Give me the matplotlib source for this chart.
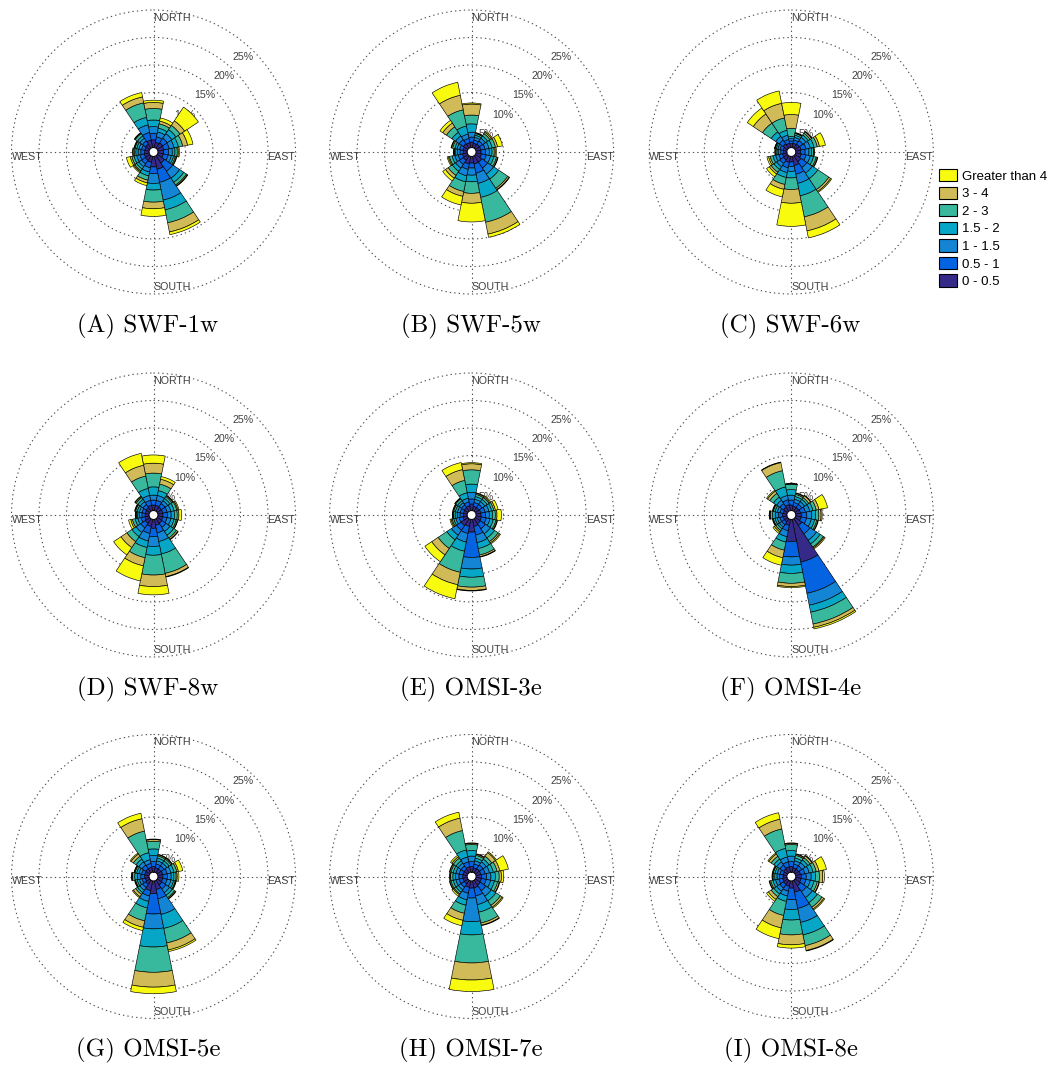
import numpy as np
import matplotlib.pyplot as plt
from matplotlib.patches import Patch

plt.rcParams['font.family'] = ['Liberation Sans', 'DejaVu Sans']

# 16 compass sectors, clockwise from north
directions = ['N', 'NNE', 'NE', 'ENE', 'E', 'ESE', 'SE', 'SSE',
              'S', 'SSW', 'SW', 'WSW', 'W', 'WNW', 'NW', 'NNW']
speed_bins = ['0 - 0.5', '0.5 - 1', '1 - 1.5', '1.5 - 2', '2 - 3', '3 - 4', 'Greater than 4']
bin_colors = ['#352a87', '#0363e1', '#1485d4', '#06a7c6', '#38b99e', '#d1bb59', '#f9fb0e']
ring_values = [5, 10, 15, 20, 25]

# frequency (%) per direction (rows) and speed bin (columns)
swf_1w = [
    [1.4, 1.2, 1.2, 1.2, 2.1, 1.1, 0.4],
    [1.0, 1.0, 0.9, 0.7, 0.8, 0.5, 0.6],
    [1.2, 1.0, 1.0, 0.9, 0.9, 1.0, 3.0],
    [1.1, 1.0, 0.9, 0.8, 0.8, 0.9, 1.0],
    [1.0, 0.9, 0.7, 0.5, 0.4, 0.2, 0.2],
    [1.0, 0.9, 0.6, 0.4, 0.3, 0.2, 0.1],
    [1.6, 1.8, 1.5, 0.9, 0.6, 0.2, 0.1],
    [2.4, 2.4, 3.3, 1.8, 2.4, 1.7, 0.5],
    [1.9, 1.2, 1.8, 1.2, 2.2, 1.2, 1.4],
    [1.1, 1.0, 0.8, 0.7, 0.8, 0.5, 0.5],
    [1.0, 0.8, 0.6, 0.5, 0.4, 0.2, 0.2],
    [0.9, 0.8, 0.6, 0.5, 0.4, 0.3, 0.7],
    [0.8, 0.7, 0.5, 0.4, 0.3, 0.2, 0.1],
    [0.8, 0.6, 0.5, 0.4, 0.3, 0.1, 0.1],
    [0.9, 0.7, 0.6, 0.5, 0.5, 0.1, 0.1],
    [1.4, 1.4, 1.4, 1.4, 2.7, 1.1, 0.8],
]
swf_5w = [
    [1.0, 0.9, 0.9, 1.5, 1.6, 2.0, 0.2],
    [0.8, 0.6, 0.5, 0.4, 0.3, 0.1, 0.1],
    [0.9, 0.7, 0.6, 0.5, 0.5, 0.3, 0.2],
    [0.9, 0.8, 0.7, 0.6, 0.6, 0.4, 0.9],
    [0.9, 0.8, 0.7, 0.5, 0.4, 0.2, 0.2],
    [1.0, 0.9, 0.8, 0.6, 0.5, 0.2, 0.1],
    [1.4, 1.3, 1.3, 1.1, 2.0, 0.3, 0.1],
    [1.4, 1.7, 1.9, 2.6, 4.6, 2.2, 0.6],
    [1.2, 0.9, 1.3, 1.2, 2.1, 1.8, 3.4],
    [1.4, 1.0, 1.2, 1.1, 1.8, 0.9, 1.6],
    [1.0, 0.9, 0.8, 0.7, 0.9, 0.6, 0.6],
    [0.9, 0.8, 0.6, 0.5, 0.5, 0.2, 0.2],
    [0.7, 0.6, 0.5, 0.3, 0.2, 0.1, 0.1],
    [0.8, 0.6, 0.5, 0.4, 0.4, 0.2, 0.1],
    [1.0, 0.9, 0.8, 0.8, 1.2, 0.8, 0.6],
    [0.9, 0.8, 0.8, 1.5, 3.0, 2.7, 2.4],
]
swf_6w = [
    [0.7, 0.5, 0.4, 0.4, 1.5, 2.5, 2.2],
    [0.8, 0.6, 0.5, 0.4, 0.3, 0.1, 0.1],
    [0.9, 0.8, 0.7, 0.5, 0.4, 0.3, 0.1],
    [1.0, 0.9, 0.8, 0.7, 0.6, 0.4, 1.1],
    [0.9, 0.8, 0.7, 0.5, 0.3, 0.1, 0.1],
    [1.0, 0.9, 0.8, 0.6, 0.5, 0.2, 0.1],
    [1.3, 1.3, 1.2, 1.2, 2.4, 0.4, 0.2],
    [1.7, 1.6, 1.7, 2.3, 3.9, 2.6, 1.3],
    [1.0, 0.8, 0.9, 1.2, 2.1, 2.5, 4.2],
    [1.1, 1.0, 0.9, 0.9, 1.3, 0.9, 1.4],
    [0.9, 0.8, 0.7, 0.6, 0.6, 0.4, 0.6],
    [0.8, 0.7, 0.6, 0.5, 0.5, 0.3, 0.3],
    [0.6, 0.5, 0.4, 0.3, 0.2, 0.1, 0.1],
    [0.7, 0.6, 0.4, 0.3, 0.2, 0.05, 0.05],
    [1.0, 0.8, 0.8, 1.0, 1.9, 2.0, 1.3],
    [0.8, 0.7, 0.8, 0.9, 2.3, 2.7, 2.3],
]
swf_8w = [
    [1.0, 0.9, 0.9, 1.5, 2.5, 1.8, 1.5],
    [1.0, 0.9, 0.9, 0.9, 1.2, 0.9, 0.5],
    [0.9, 0.8, 0.6, 0.5, 0.4, 0.2, 0.1],
    [0.9, 0.8, 0.7, 0.6, 0.5, 0.2, 0.2],
    [0.9, 0.8, 0.7, 0.6, 0.5, 0.3, 0.5],
    [0.9, 0.8, 0.7, 0.6, 0.4, 0.2, 0.1],
    [1.0, 0.9, 0.9, 0.8, 0.6, 0.3, 0.1],
    [1.1, 1.4, 1.6, 2.3, 3.6, 0.6, 0.1],
    [1.6, 1.5, 1.8, 1.6, 3.6, 2.1, 1.5],
    [1.3, 1.3, 1.4, 1.2, 1.9, 1.5, 2.8],
    [1.0, 1.0, 1.0, 0.9, 1.1, 1.3, 1.6],
    [0.8, 0.7, 0.6, 0.5, 0.5, 0.3, 0.4],
    [0.7, 0.6, 0.5, 0.3, 0.2, 0.1, 0.1],
    [0.7, 0.6, 0.5, 0.4, 0.3, 0.1, 0.1],
    [0.8, 0.7, 0.6, 0.5, 0.4, 0.2, 0.1],
    [1.0, 0.9, 0.9, 1.3, 2.3, 2.0, 2.2],
]
omsi_3e = [
    [1.2, 0.9, 1.2, 1.5, 2.6, 1.1, 0.2],
    [0.8, 0.7, 0.6, 0.5, 0.4, 0.2, 0.1],
    [0.8, 0.7, 0.6, 0.5, 0.4, 0.2, 0.2],
    [0.9, 0.8, 0.7, 0.5, 0.4, 0.3, 0.5],
    [0.9, 0.8, 0.7, 0.6, 0.5, 0.3, 0.8],
    [1.0, 0.9, 0.7, 0.6, 0.5, 0.2, 0.1],
    [1.1, 1.1, 1.1, 0.9, 0.8, 0.3, 0.2],
    [1.3, 1.6, 1.4, 1.1, 1.2, 0.3, 0.1],
    [2.3, 4.6, 2.1, 1.5, 1.8, 0.6, 0.1],
    [1.3, 1.3, 1.6, 1.7, 3.9, 2.3, 2.6],
    [1.5, 1.0, 1.1, 1.0, 1.9, 1.4, 1.5],
    [0.8, 0.7, 0.6, 0.4, 0.3, 0.2, 0.2],
    [0.7, 0.6, 0.5, 0.4, 0.3, 0.1, 0.1],
    [0.7, 0.6, 0.5, 0.4, 0.3, 0.1, 0.1],
    [0.8, 0.6, 0.5, 0.4, 0.4, 0.1, 0.1],
    [0.9, 0.7, 0.7, 1.0, 2.3, 2.0, 1.3],
]
omsi_4e = [
    [1.0, 0.9, 0.9, 1.0, 1.0, 0.05, 0.05],
    [0.8, 0.7, 0.6, 0.5, 0.4, 0.2, 0.1],
    [0.8, 0.7, 0.6, 0.5, 0.4, 0.4, 0.1],
    [0.9, 0.9, 0.8, 0.6, 0.6, 0.5, 1.6],
    [1.0, 1.0, 0.9, 0.7, 0.6, 0.4, 0.2],
    [1.0, 1.0, 0.9, 0.6, 0.4, 0.2, 0.1],
    [1.5, 1.8, 1.4, 0.8, 0.7, 0.2, 0.2],
    [7.9, 5.8, 2.2, 1.3, 2.2, 0.6, 0.3],
    [4.0, 2.8, 1.5, 1.5, 1.8, 0.6, 0.2],
    [1.1, 1.0, 1.1, 1.0, 1.5, 1.4, 1.4],
    [0.7, 0.6, 0.5, 0.4, 0.4, 0.3, 0.3],
    [0.7, 0.6, 0.5, 0.4, 0.3, 0.1, 0.1],
    [0.8, 0.7, 0.6, 0.5, 0.4, 0.1, 0.1],
    [0.7, 0.6, 0.5, 0.4, 0.3, 0.1, 0.1],
    [0.9, 0.8, 0.7, 0.7, 0.8, 0.5, 0.2],
    [1.1, 0.9, 0.8, 1.6, 3.0, 1.5, 0.1],
]
omsi_5e = [
    [1.0, 0.9, 1.1, 1.2, 1.4, 0.3, 0.1],
    [0.8, 0.7, 0.6, 0.5, 0.4, 0.2, 0.1],
    [0.8, 0.7, 0.6, 0.5, 0.4, 0.2, 0.1],
    [0.9, 0.8, 0.7, 0.6, 0.5, 0.3, 0.8],
    [0.9, 0.8, 0.7, 0.5, 0.4, 0.2, 0.3],
    [0.9, 0.8, 0.7, 0.5, 0.3, 0.1, 0.1],
    [1.0, 0.9, 0.8, 0.6, 0.5, 0.2, 0.1],
    [1.6, 1.7, 2.9, 2.6, 2.7, 1.3, 0.3],
    [2.3, 3.7, 2.7, 3.3, 4.6, 2.7, 1.2],
    [1.8, 1.0, 1.0, 1.2, 2.4, 1.2, 0.6],
    [0.9, 0.7, 0.6, 0.5, 0.4, 0.5, 0.2],
    [0.7, 0.6, 0.5, 0.4, 0.3, 0.1, 0.1],
    [0.8, 0.7, 0.6, 0.5, 0.4, 0.1, 0.1],
    [0.8, 0.6, 0.5, 0.4, 0.3, 0.1, 0.1],
    [0.9, 0.8, 0.7, 0.6, 0.6, 0.5, 0.2],
    [0.9, 0.7, 0.7, 1.3, 4.0, 2.3, 1.0],
]
omsi_7e = [
    [1.0, 0.9, 1.0, 1.0, 1.1, 0.2, 0.1],
    [0.8, 0.7, 0.6, 0.5, 0.5, 0.2, 0.1],
    [0.9, 0.8, 0.7, 0.6, 0.6, 0.8, 0.2],
    [0.9, 0.8, 0.8, 0.7, 0.7, 0.5, 1.6],
    [1.0, 0.9, 0.8, 0.8, 0.7, 0.4, 0.4],
    [1.0, 0.9, 0.8, 0.7, 0.6, 0.3, 0.1],
    [1.1, 1.2, 1.2, 1.0, 1.0, 0.4, 0.2],
    [1.3, 1.5, 1.6, 1.4, 2.0, 0.4, 0.1],
    [1.3, 1.8, 4.3, 2.4, 5.1, 3.1, 2.1],
    [1.2, 1.1, 1.2, 1.0, 1.5, 1.3, 1.0],
    [0.8, 0.7, 0.6, 0.5, 0.4, 0.2, 0.3],
    [0.8, 0.7, 0.6, 0.5, 0.4, 0.2, 0.1],
    [0.8, 0.7, 0.6, 0.5, 0.4, 0.1, 0.1],
    [0.8, 0.7, 0.6, 0.5, 0.4, 0.2, 0.1],
    [0.8, 0.7, 0.6, 0.5, 0.6, 0.3, 0.3],
    [1.0, 0.9, 0.9, 1.3, 3.6, 2.3, 1.1],
]
omsi_8e = [
    [1.0, 0.9, 1.0, 1.0, 1.1, 0.2, 0.1],
    [0.8, 0.7, 0.6, 0.5, 0.5, 0.2, 0.1],
    [0.8, 0.7, 0.7, 0.6, 0.5, 0.4, 0.1],
    [0.9, 0.8, 0.8, 0.7, 0.6, 0.5, 1.4],
    [1.0, 0.9, 0.9, 0.8, 0.7, 0.6, 0.3],
    [1.0, 0.9, 0.8, 0.7, 0.6, 0.3, 0.1],
    [1.2, 1.3, 1.3, 1.1, 1.0, 0.4, 0.2],
    [2.1, 3.0, 2.6, 2.3, 2.0, 0.9, 0.1],
    [1.3, 2.1, 1.8, 1.9, 2.7, 1.8, 0.6],
    [1.0, 0.9, 0.9, 1.0, 2.6, 2.3, 2.0],
    [0.9, 0.8, 0.7, 0.6, 0.6, 0.6, 0.4],
    [0.8, 0.7, 0.6, 0.5, 0.4, 0.2, 0.1],
    [0.7, 0.6, 0.5, 0.4, 0.3, 0.1, 0.1],
    [0.7, 0.6, 0.5, 0.4, 0.3, 0.1, 0.1],
    [0.9, 0.8, 0.7, 0.6, 0.6, 0.5, 0.2],
    [1.0, 0.9, 0.9, 1.6, 3.6, 1.8, 1.2],
]

panel_titles = ['(A) SWF-1w', '(B) SWF-5w', '(C) SWF-6w',
                '(D) SWF-8w', '(E) OMSI-3e', '(F) OMSI-4e',
                '(G) OMSI-5e', '(H) OMSI-7e', '(I) OMSI-8e']
panel_data = [swf_1w, swf_5w, swf_6w, swf_8w, omsi_3e, omsi_4e,
              omsi_5e, omsi_7e, omsi_8e]

W, H = 1052, 1068
fig = plt.figure(figsize=(W / 100, H / 100), dpi=100)

# layout in pixels
col_cx = [153.5, 471.6, 791.3]
row_cy = [152, 515, 876.5]
cap_x = [148, 470.5, 790.5]
cap_y = [326, 689, 1050]
R = 142

theta = np.deg2rad(np.arange(16) * 22.5)
width = 2 * np.pi / 16
grid_style = dict(color='0.3', linewidth=0.8, linestyle=(0, (1.2, 2.8)))
label_color = '0.25'

for i, (title, vals) in enumerate(zip(panel_titles, panel_data)):
    r_i, c_i = divmod(i, 3)
    cx, cy = col_cx[c_i], row_cy[r_i]
    ax = fig.add_axes([(cx - R) / W, 1 - (cy + R) / H, 2 * R / W, 2 * R / H],
                      projection='polar')
    ax.set_theta_zero_location('N')
    ax.set_theta_direction(-1)
    ax.set_ylim(0, 25)
    ax.set_rorigin(-0.82)
    ax.set_yticks(ring_values)
    ax.set_yticklabels([])
    ax.set_xticks(np.deg2rad([0, 90, 180, 270]))
    ax.set_xticklabels([])
    ax.tick_params(length=0)
    ax.grid(True, **grid_style)
    for gl in ax.get_xgridlines() + ax.get_ygridlines():
        gl.set_clip_on(False)
    ax.spines['polar'].set_visible(False)
    ax.set_facecolor('none')

    data = np.array(vals)
    bottom = np.zeros(len(directions))
    for k in range(len(speed_bins)):
        ax.bar(theta, data[:, k], width=width, bottom=bottom,
               color=bin_colors[k], edgecolor='black', linewidth=0.45, zorder=3)
        bottom += data[:, k]

    for rv in ring_values:
        ax.text(np.deg2rad(45), rv, f'{rv}%', ha='right', va='top',
                fontsize=7.7, color=label_color, zorder=2, clip_on=False)
    ax.text(0, 24.5, 'NORTH', ha='left', va='top', fontsize=7.7,
            color=label_color, zorder=4, clip_on=False)
    ax.text(np.pi, 24.7, 'SOUTH', ha='left', va='bottom', fontsize=7.7,
            color=label_color, zorder=4, clip_on=False)
    ax.text(np.pi / 2, 25, 'EAST', ha='right', va='top', fontsize=7.7,
            color=label_color, zorder=4, clip_on=False)
    ax.text(3 * np.pi / 2, 25, 'WEST', ha='left', va='top', fontsize=7.7,
            color=label_color, zorder=4, clip_on=False)

    fig.text(cap_x[c_i] / W, 1 - cap_y[r_i] / H, title, family='cmr10',
             fontsize=18, ha='center', va='center')

handles = [Patch(facecolor=bin_colors[k], edgecolor='black', linewidth=0.8)
           for k in range(len(speed_bins) - 1, -1, -1)]
labels = speed_bins[::-1]
fig.legend(handles, labels, loc='upper left', bbox_to_anchor=(939 / W, 1 - 169 / H),
           frameon=False, fontsize=9.5, handlelength=1.36, handleheight=1.05,
           handletextpad=0.35, labelspacing=0.3, borderpad=0, borderaxespad=0)

fig.savefig('out.png', dpi=100)
